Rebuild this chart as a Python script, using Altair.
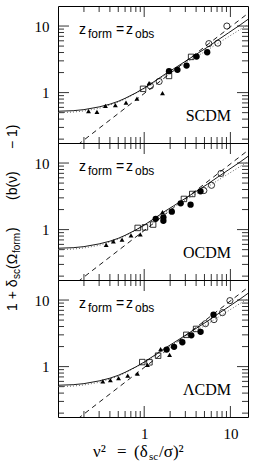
import altair as alt
import pandas as pd

# ---- theory curves (same in all panels) ----
solid_x = [0.1, 0.15, 0.2, 0.3, 0.4, 0.5, 0.6, 0.8, 1.0, 1.3, 1.7, 2.2, 3.0, 4.0, 5.4, 7.0, 9.5, 13.0, 16.0]
solid_y = [0.525, 0.535, 0.555, 0.61, 0.67, 0.74, 0.82, 0.99, 1.17, 1.46, 1.85, 2.28, 2.95, 3.75, 4.8, 6.05, 7.9, 10.4, 12.6]
dotted_x = [0.1, 0.15, 0.2, 0.3, 0.4, 0.5, 0.6, 0.8, 1.0, 1.3, 1.7, 2.2, 3.0, 4.0, 5.4, 7.0, 9.5, 13.0, 16.0]
dotted_y = [0.5, 0.51, 0.53, 0.58, 0.65, 0.72, 0.8, 0.98, 1.15, 1.42, 1.78, 2.18, 2.78, 3.45, 4.35, 5.4, 6.9, 8.9, 10.5]
dashed_x = [0.17, 16.0]
dashed_y = [0.165, 15.5]

# ---- SCDM ----
scdm_tri_x = [0.226, 0.283, 0.355, 0.463, 0.615, 0.824, 1.14, 1.63]
scdm_tri_y = [0.526, 0.513, 0.631, 0.646, 0.71, 0.814, 1.39, 0.986]
scdm_sq_x = [0.97, 1.94, 3.5]
scdm_sq_y = [1.14, 1.78, 3.44]
scdm_fc_x = [1.94, 2.43, 3.1, 4.05, 5.38]
scdm_fc_y = [2.1, 2.2, 2.55, 3.48, 4.04]
scdm_oc_x = [1.18, 1.49, 5.62, 7.14, 9.1]
scdm_oc_y = [1.26, 1.47, 5.44, 5.53, 10.0]

# ---- OCDM ----
ocdm_tri_x = [0.362, 0.439, 0.553, 0.703, 0.90, 1.63]
ocdm_tri_y = [0.59, 0.665, 0.71, 0.82, 0.85, 1.83]
ocdm_sq_x = [0.84, 1.02, 1.27, 2.89, 3.61]
ocdm_sq_y = [1.06, 1.08, 1.19, 2.89, 3.43]
ocdm_fc_x = [1.36, 1.67, 1.67, 2.09, 2.65, 3.45, 4.5]
ocdm_fc_y = [1.45, 1.53, 1.36, 1.86, 2.48, 2.37, 3.76]
ocdm_oc_x = [4.92, 6.04, 7.77]
ocdm_oc_y = [3.86, 4.63, 6.98]

# ---- LCDM ----
lcdm_tri_x = [0.331, 0.405, 0.504, 0.644, 0.835, 1.09, 1.55, 1.97]
lcdm_tri_y = [0.6, 0.625, 0.672, 0.733, 0.785, 1.06, 1.83, 1.5]
lcdm_sq_x = [0.95, 1.15, 1.45, 3.08, 4.0]
lcdm_sq_y = [1.17, 1.16, 1.46, 3.0, 3.68]
lcdm_fc_x = [1.82, 2.22, 2.77, 3.52, 4.51, 6.37]
lcdm_fc_y = [1.8, 1.98, 2.32, 2.95, 3.33, 6.03]
lcdm_oc_x = [5.15, 6.45, 8.09, 9.87]
lcdm_oc_y = [4.42, 5.08, 6.47, 9.8]

# ---- axis ticks ----
minor_ticks = [0.2, 0.3, 0.4, 0.5, 0.6, 0.7, 0.8, 0.9, 2, 3, 4, 5, 6, 7, 8, 9]
major_ticks = [1, 10]
labels_vals = [1, 10]

XDOM = [0.1, 16]
YDOM = [0.175, 20]
W, H = 190, 137
SERIF = "Liberation Serif"
SANS = "Liberation Sans"
MINOR, MAJOR = 6, 11


def xenc(field, show):
    axis = alt.Axis(values=labels_vals, format="~g", ticks=False, domain=False, grid=False,
                    labelFont=SERIF, labelFontSize=15, labelPadding=9, labelColor="black",
                    title=None) if show else None
    return alt.X(f"{field}:Q", scale=alt.Scale(type="log", domain=XDOM, nice=False), axis=axis)


def yenc(field):
    axis = alt.Axis(values=labels_vals, format="~g", ticks=False, domain=False, grid=False,
                    labelFont=SERIF, labelFontSize=15, labelPadding=9, labelColor="black",
                    title=None)
    return alt.Y(f"{field}:Q", scale=alt.Scale(type="log", domain=YDOM, nice=False), axis=axis)


def line(xs, ys, show, **kw):
    df = pd.DataFrame({"x": xs, "y": ys})
    return alt.Chart(df).mark_line(clip=True, **kw).encode(x=xenc("x", show), y=yenc("y"))


def pts(xs, ys, show, **kw):
    df = pd.DataFrame({"x": xs, "y": ys})
    return alt.Chart(df).mark_point(clip=True, **kw).encode(x=xenc("x", show), y=yenc("y"))


def tick_layers(show):
    out = []
    for vals, L in ((minor_ticks, MINOR), (major_ticks, MAJOR)):
        df = pd.DataFrame({"v": vals})
        r = alt.Chart(df).mark_rule(color="black", strokeWidth=0.8)
        out.append(r.encode(x=xenc("v", show), y=alt.value(0), y2=alt.value(L)))
        out.append(r.encode(x=xenc("v", show), y=alt.value(H), y2=alt.value(H - L)))
        out.append(r.encode(y=yenc("v"), x=alt.value(0), x2=alt.value(L)))
        out.append(r.encode(y=yenc("v"), x=alt.value(W), x2=alt.value(W - L)))
    return out


def txt(s, x, y, size, font, align="left", angle=0):
    df = pd.DataFrame({"t": [s]})
    kw = dict(align=align, baseline="alphabetic", fontSize=size, font=font, color="black")
    if angle:
        kw["angle"] = angle
    return alt.Chart(df).mark_text(**kw).encode(text="t:N", x=alt.value(x), y=alt.value(y))


def panel(tri, sq, fc, oc, label, show_x=False, ytitle=False, xtitle=False):
    layers = tick_layers(show_x)
    layers += [
        line(dotted_x, dotted_y, show_x, color="#555555", strokeWidth=0.9, strokeDash=[1, 2]),
        line(dashed_x, dashed_y, show_x, color="black", strokeWidth=0.9, strokeDash=[5, 4]),
        line(solid_x, solid_y, show_x, color="black", strokeWidth=0.9),
        pts(tri[0], tri[1], show_x, shape="triangle-up", filled=True, color="black", size=24, opacity=1),
        pts(sq[0], sq[1], show_x, shape="square", filled=False, color="black", size=30, strokeWidth=0.8, opacity=1),
        pts(fc[0], fc[1], show_x, shape="circle", filled=True, color="black", size=40, opacity=1),
        pts(oc[0], oc[1], show_x, shape="circle", filled=False, color="black", size=38, strokeWidth=0.8, opacity=1),
        txt("z", 21, 28, 14, SANS),
        txt("form", 30, 32, 12, SANS),
        txt("=", 58, 28, 14, SANS),
        txt("z", 68, 28, 14, SANS),
        txt("obs", 77, 32, 12, SANS),
        txt(label, 173, 115, 16, SERIF, align="right"),
    ]
    if ytitle:
        bx, sx = -41, -38
        layers += [
            txt("1 + δ", bx, 168, 14, SANS, angle=270),
            txt("sc", sx, 136, 10, SANS, angle=270),
            txt("(Ω", bx, 126, 14, SANS, angle=270),
            txt("form", sx, 110, 10, SANS, angle=270),
            txt(")", bx, 89, 14, SANS, angle=270),
            txt("(b(ν)", bx, 57, 14, SANS, angle=270),
            txt("− 1)", bx, 6, 14, SANS, angle=270),
        ]
    if xtitle:
        layers += [
            txt("ν²", 35, 177, 17, SERIF),
            txt("=", 59, 177, 17, SERIF),
            txt("(δ", 76, 177, 17, SERIF),
            txt("sc", 91, 180, 11, SERIF),
            txt("/σ)²", 101, 177, 17, SERIF),
        ]
    return alt.layer(*layers).properties(width=W, height=H)


p1 = panel((scdm_tri_x, scdm_tri_y), (scdm_sq_x, scdm_sq_y), (scdm_fc_x, scdm_fc_y), (scdm_oc_x, scdm_oc_y), "SCDM")
p2 = panel((ocdm_tri_x, ocdm_tri_y), (ocdm_sq_x, ocdm_sq_y), (ocdm_fc_x, ocdm_fc_y), (ocdm_oc_x, ocdm_oc_y), "OCDM", ytitle=True)
p3 = panel((lcdm_tri_x, lcdm_tri_y), (lcdm_sq_x, lcdm_sq_y), (lcdm_fc_x, lcdm_fc_y), (lcdm_oc_x, lcdm_oc_y), "ΛCDM", show_x=True, xtitle=True)

chart = alt.vconcat(p1, p2, p3, spacing=0, bounds="flush").properties(
    padding={"left": 5, "top": 5, "right": 5, "bottom": 2},
    background="white",
).configure_view(stroke="black", strokeWidth=1)

chart.save("out.html", embed_options={"renderer": "svg", "actions": False})
